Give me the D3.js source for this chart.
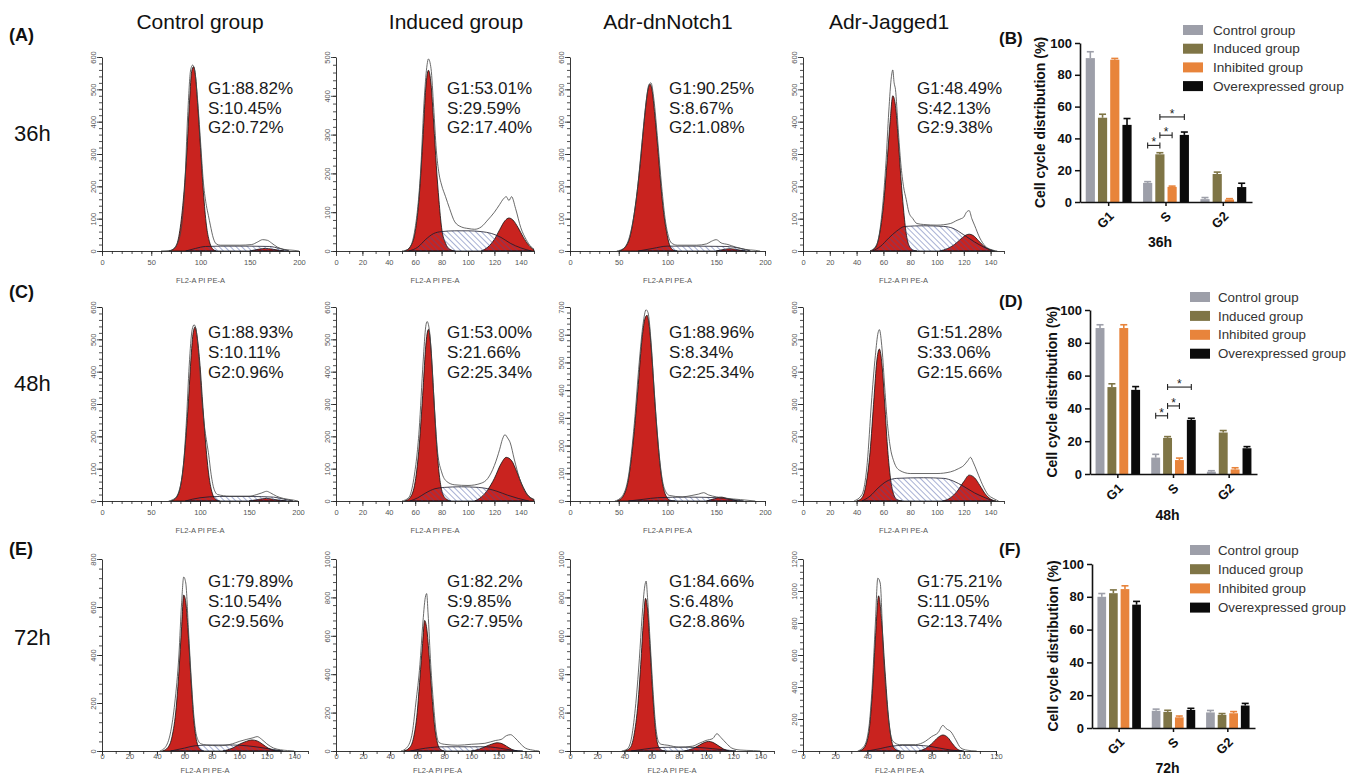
<!DOCTYPE html>
<html><head><meta charset="utf-8">
<script src="https://cdn.jsdelivr.net/npm/d3@7"></script>
<style>
body{margin:0;background:#fff}
svg text{font-family:Arial,"Liberation Sans",sans-serif}
</style>
</head><body>
<svg id="c" width="1348" height="783"></svg>
<script>
// ---------------- DATA ----------------
const columnTitles = ["Control group", "Induced group", "Adr-dnNotch1", "Adr-Jagged1"];
const rowLabels = ["36h", "48h", "72h"];
const panelLetters = ["(A)", "(C)", "(E)"];
const barLetters = ["(B)", "(D)", "(F)"];

// histogram axes maxima (panel order: row by row, 4 per row)
const histXMax = [200, 150, 200, 150, 200, 150, 200, 150, 150, 150, 150, 120];
const histYMax = [600, 500, 600, 600, 600, 600, 700, 600, 800, 1000, 1000, 1200];

const statG1 = ["G1:88.82%", "G1:53.01%", "G1:90.25%", "G1:48.49%", "G1:88.93%", "G1:53.00%", "G1:88.96%", "G1:51.28%", "G1:79.89%", "G1:82.2%", "G1:84.66%", "G1:75.21%"];
const statS  = ["S:10.45%", "S:29.59%", "S:8.67%", "S:42.13%", "S:10.11%", "S:21.66%", "S:8.34%", "S:33.06%", "S:10.54%", "S:9.85%", "S:6.48%", "S:11.05%"];
const statG2 = ["G2:0.72%", "G2:17.40%", "G2:1.08%", "G2:9.38%", "G2:0.96%", "G2:25.34%", "G2:25.34%", "G2:15.66%", "G2:9.56%", "G2:7.95%", "G2:8.86%", "G2:13.74%"];

// fitted G1 peaks [channel, count]
const g1Peaks = [
  [[68,0],[74,10],[78,45],[82,140],[86,300],[89,470],[91,555],[93,570],[95,540],[97,460],[100,320],[103,180],[106,80],[109,30],[112,8],[116,0]],
  [[52,0],[56,10],[60,50],[63,140],[66,300],[68,420],[70,466],[72,430],[74,330],[76,220],[78,130],[80,60],[83,20],[86,5],[90,0]],
  [[50,0],[56,10],[62,50],[67,140],[72,270],[76,400],[80,500],[82,516],[84,500],[87,420],[90,320],[93,210],[96,120],[99,60],[102,20],[106,3],[110,0]],
  [[50,0],[54,10],[57,50],[60,140],[63,290],[65,400],[67,480],[69,450],[71,350],[73,230],[75,130],[77,55],[79,18],[82,3],[85,0]],
  [[70,0],[75,8],[80,45],[84,140],[88,300],[91,450],[93,520],[95,538],[97,510],[100,420],[103,290],[106,170],[109,80],[112,30],[115,8],[120,0]],
  [[52,0],[56,10],[60,60],[63,170],[66,350],[68,480],[70,531],[72,470],[74,330],[76,190],[78,90],[80,35],[83,8],[87,0]],
  [[48,0],[54,15],[60,80],[65,220],[70,420],[74,590],[77,660],[79,670],[81,640],[84,520],[87,360],[90,220],[93,110],[96,45],[99,15],[103,2],[108,0]],
  [[40,0],[44,10],[47,50],[50,150],[53,320],[55,430],[57,470],[59,420],[61,300],[63,170],[65,80],[67,30],[70,5],[74,0]],
  [[44,0],[48,15],[51,60],[54,180],[56,330],[58,520],[59.5,650],[61,620],[63,470],[65,280],[67,120],[69,40],[71,10],[74,0]],
  [[50,0],[54,15],[57,60],[60,200],[62,380],[64,560],[65.5,680],[67,640],[69,480],[71,280],[73,120],[75,40],[77,10],[80,0]],
  [[40,0],[44,15],[47,80],[50,250],[52,450],[54,680],[55.5,795],[57,740],[59,520],[61,280],[63,100],[65,25],[68,3],[70,0]],
  [[35,0],[38,20],[41,120],[43,350],[45,700],[47,970],[49,800],[51,500],[53,230],[55,70],[57,15],[60,0]]
];
// fitted G2 peaks
const g2Peaks = [
  [[150,0],[160,6],[166,8],[172,6],[185,0]],
  [[110,0],[115,10],[120,30],[124,55],[128,78],[131,85],[134,80],[138,60],[142,35],[146,15],[150,3]],
  [[150,0],[158,5],[164,7],[170,5],[180,0]],
  [[102,0],[108,8],[113,20],[118,38],[122,50],[124,52],[127,48],[131,32],[135,15],[139,5],[143,0]],
  [[150,0],[160,5],[168,8],[175,5],[188,0]],
  [[105,0],[110,12],[115,35],[120,70],[125,115],[129,135],[133,125],[137,90],[141,50],[145,20],[150,5]],
  [[140,0],[148,8],[155,14],[162,8],[172,0]],
  [[104,0],[110,10],[115,30],[120,60],[124,80],[128,72],[132,48],[136,22],[140,6],[144,0]],
  [[88,0],[95,12],[100,28],[105,40],[109,46],[113,42],[117,28],[121,12],[126,2],[130,0]],
  [[100,0],[106,10],[111,25],[116,38],[119,43],[122,40],[126,25],[130,8],[134,0]],
  [[84,0],[90,12],[95,30],[99,45],[102,50],[105,45],[109,28],[113,10],[117,0]],
  [[72,0],[76,15],[80,45],[84,85],[87,100],[90,85],[93,45],[96,12],[99,0]]
];
// fitted S-phase distributions
const sPhases = [
  [[85,0],[95,8],[105,14],[120,15],[150,15],[170,14],[180,8],[190,0]],
  [[55,0],[62,10],[68,30],[74,45],[80,50],[90,52],[100,52],[110,50],[118,45],[125,35],[132,20],[140,8],[148,0]],
  [[70,0],[85,8],[100,15],[130,15],[160,14],[175,8],[185,0]],
  [[52,0],[58,15],[64,40],[70,62],[76,76],[90,78],[105,76],[112,70],[120,50],[128,28],[135,12],[142,0]],
  [[85,0],[100,10],[120,14],[150,14],[175,12],[185,6],[195,0]],
  [[56,0],[62,10],[68,25],[75,38],[82,42],[95,44],[108,42],[115,38],[122,30],[130,18],[138,8],[146,0]],
  [[60,0],[75,6],[90,12],[120,14],[150,12],[165,6],[178,0]],
  [[44,0],[50,15],[56,40],[62,60],[70,70],[90,72],[105,70],[112,62],[120,45],[128,25],[136,10],[142,0]],
  [[50,0],[60,12],[68,22],[80,25],[95,25],[105,22],[115,15],[125,6],[132,0]],
  [[55,0],[62,10],[70,18],[80,22],[100,22],[110,22],[118,18],[125,10],[132,3],[138,0]],
  [[45,0],[55,10],[65,18],[80,20],[95,18],[105,12],[115,5],[122,0]],
  [[40,0],[48,15],[55,30],[62,35],[72,35],[78,30],[85,18],[92,6],[100,0]]
];
// raw histogram outlines
const rawCounts = [
  [[60,0],[70,2],[75,15],[80,60],[84,200],[87,420],[90,560],[92,575],[94,560],[97,470],[100,340],[103,210],[106,140],[108,110],[110,80],[113,40],[116,22],[120,18],[140,18],[152,20],[158,28],[163,35],[168,33],[172,25],[178,12],[185,5],[195,2],[200,0]],
  [[50,0],[55,5],[60,60],[64,200],[67,400],[69,480],[70,495],[72,470],[74,370],[76,260],[78,200],[80,170],[83,140],[86,110],[90,75],[95,62],[100,58],[105,56],[110,62],[115,80],[120,100],[124,120],[127,135],[129,140],[131,130],[133,140],[136,110],[140,60],[144,30],[148,10],[150,5]],
  [[48,0],[55,8],[62,55],[68,160],[74,340],[78,460],[81,515],[83,520],[86,470],[90,340],[94,200],[98,90],[101,45],[104,25],[110,18],[130,18],[140,22],[145,30],[150,35],[155,25],[162,20],[170,12],[180,5],[190,2],[195,0]],
  [[50,0],[55,20],[59,120],[62,280],[64,430],[66,540],[67,560],[68,520],[69,500],[71,380],[73,270],[75,200],[77,160],[79,120],[82,100],[85,85],[90,82],[100,80],[110,85],[115,95],[118,100],[120,105],[122,120],[124,125],[126,100],[128,80],[132,40],[136,15],[140,5],[145,0]],
  [[68,0],[75,10],[82,80],[86,240],[89,420],[92,530],[94,545],[96,530],[99,440],[102,310],[105,220],[107,180],[109,140],[111,90],[114,40],[118,20],[130,15],[150,15],[158,20],[163,25],[168,30],[172,25],[178,15],[185,8],[195,3],[200,0]],
  [[50,0],[55,10],[59,70],[63,220],[66,430],[68,540],[69,555],[71,520],[73,400],[75,260],[77,150],[80,90],[84,60],[90,50],[100,48],[110,55],[115,70],[120,110],[124,160],[126,190],[128,205],[130,195],[132,180],[135,130],[139,70],[143,30],[147,10],[150,3]],
  [[46,0],[53,15],[60,90],[66,280],[71,500],[75,640],[78,690],[80,680],[83,580],[86,420],[89,270],[92,150],[95,70],[98,35],[102,20],[115,15],[125,20],[132,25],[137,30],[142,22],[150,15],[160,10],[175,5],[190,0]],
  [[38,0],[44,20],[48,120],[51,300],[54,450],[56,520],[57,530],[59,470],[61,350],[63,240],[65,170],[68,120],[72,95],[80,85],[100,85],[110,90],[116,100],[120,110],[123,125],[125,135],[127,120],[130,90],[134,50],[138,20],[142,8],[146,0]],
  [[42,0],[46,15],[50,80],[53,200],[56,400],[58,620],[59.5,725],[61,700],[63,500],[65,300],[67,140],[69,60],[72,30],[76,25],[85,22],[95,30],[100,40],[105,48],[110,55],[113,60],[116,50],[120,30],[125,12],[130,5],[135,2],[140,0]],
  [[48,0],[52,15],[56,80],[59,250],[62,450],[64,650],[66,800],[67,820],[68,720],[70,450],[72,250],[74,100],[76,45],[80,35],[90,30],[100,35],[110,40],[118,55],[122,60],[126,80],[129,85],[132,70],[136,40],[140,15],[145,5],[150,0]],
  [[38,0],[42,10],[45,60],[48,220],[51,480],[53,700],[55,860],[56,885],[57,800],[59,560],[61,320],[63,130],[65,50],[67,35],[72,30],[80,20],[90,25],[95,40],[100,55],[105,65],[108,90],[111,70],[115,40],[119,15],[125,5],[135,2],[140,0]],
  [[34,0],[38,30],[41,150],[43,400],[45,800],[46.5,1080],[48,1050],[50,600],[52,320],[54,130],[56,60],[60,40],[70,40],[76,60],[80,90],[84,115],[87,160],[89,140],[92,120],[95,70],[98,20],[102,5],[108,0]]
];

// bar charts
const phases = ["G1", "S", "G2"];
const groups = ["Control group", "Induced group", "Inhibited group", "Overexpressed group"];
const barTitles = ["36h", "48h", "72h"];
// means[group][phase]
const mean36h = [[90.5, 12, 1.8], [53, 30, 17.6], [89.5, 9.5, 1.6], [48.5, 42.2, 9.4]];
const err36h  = [[4, 0.8, 1], [2.2, 1, 1.2], [0.8, 0.5, 0.5], [4, 1.8, 2.4]];
const mean48h = [[89, 10, 1.4], [53, 22, 25.3], [89, 8.5, 2.8], [51.3, 33, 15.7]];
const err48h  = [[2, 2, 0.6], [2, 0.8, 1.2], [2, 1.2, 1], [2, 1, 1]];
const mean72h = [[80, 10.5, 9.5], [82.2, 9.8, 8], [84.7, 6.5, 9], [75.2, 11, 13.7]];
const err72h  = [[2, 1, 1.2], [2, 1, 0.8], [2, 0.8, 1], [2, 1, 1.3]];
// significance brackets in S phase: [groupA, groupB, level]
const sig36h = [[0, 1, 35.6], [1, 2, 42], [1, 3, 53.5]];
const sig48h = [[0, 1, 35.5], [1, 2, 41.5], [1, 3, 53]];
const sig72h = [];

// ---------------- DRAW ----------------
const svg = d3.select("#c");
svg.append("rect").attr("width", 1348).attr("height", 783).attr("fill", "#fff");
const defs = svg.append("defs");
defs.append("pattern").attr("id", "hatch").attr("patternUnits", "userSpaceOnUse")
  .attr("width", 4).attr("height", 4).attr("patternTransform", "rotate(-45)")
  .append("line").attr("x1", 0).attr("y1", 0).attr("x2", 0).attr("y2", 4)
  .attr("stroke", "#3d52a0").attr("stroke-width", 0.9);

const colLeft = [102, 336, 570, 803];
const rowBottom = [251, 501, 751];
const rowTop = [57, 307, 559];
const panelWidth = [197, 198, 195, 201, 196, 198, 195, 201, 206, 203, 204, 193];
const statX = [208, 447, 669, 917];
const statY0 = [94, 338, 587];
const statDy = [19.5, 20, 20];
const xLabOff = [15, 15, 9];
const xTitleOff = [29, 29, 19];

// titles
columnTitles.forEach((t, i) => {
  svg.append("text").attr("x", [200, 456, 668, 889][i]).attr("y", 29)
    .attr("text-anchor", "middle").attr("font-size", 21).attr("fill", "#111").text(t);
});
rowLabels.forEach((t, i) => {
  svg.append("text").attr("x", 14).attr("y", [141, 391, 645][i])
    .attr("font-size", 22).attr("fill", "#111").text(t);
});
panelLetters.forEach((t, i) => {
  svg.append("text").attr("x", 9).attr("y", [41, 298, 555][i])
    .attr("font-size", 18).attr("font-weight", "bold").attr("fill", "#111").text(t);
});

const red = "#c9231f";
for (let i = 0; i < 12; i++) {
  const r = Math.floor(i / 4), c = i % 4;
  const x = d3.scaleLinear([0, histXMax[i]], [colLeft[c], colLeft[c] + panelWidth[i]]);
  const y = d3.scaleLinear([0, histYMax[i]], [rowBottom[r], rowTop[r]]);
  const g = svg.append("g");
  const area = d3.area().x(d => x(d[0])).y0(y(0)).y1(d => y(d[1])).curve(d3.curveMonotoneX);
  const line = d3.line().x(d => x(d[0])).y(d => y(d[1])).curve(d3.curveMonotoneX);

  g.append("path").attr("d", area(g1Peaks[i])).attr("fill", red).attr("stroke", "#111").attr("stroke-width", 0.8);
  g.append("path").attr("d", area(g2Peaks[i])).attr("fill", red).attr("stroke", "#111").attr("stroke-width", 0.8);
  g.append("path").attr("d", area(sPhases[i])).attr("fill", "url(#hatch)").attr("stroke", "#1a1a2a").attr("stroke-width", 0.8);
  g.append("path").attr("d", line(rawCounts[i])).attr("fill", "none").attr("stroke", "#444").attr("stroke-width", 0.8);

  // axes
  const xMax = histXMax[i], yMax = histYMax[i];
  const xMajor = xMax === 200 ? 50 : 20;
  const yMajor = yMax <= 700 ? 100 : 200;
  const ax = g.append("g").attr("transform", `translate(0,${y(0)})`);
  ax.call(d3.axisBottom(x).tickValues(d3.range(0, xMax + 0.1, 10)).tickSize(3).tickSizeOuter(0).tickFormat(""));
  const axM = g.append("g").attr("transform", `translate(0,${y(0)})`);
  axM.call(d3.axisBottom(x).tickValues(d3.range(0, xMax + 0.1, xMajor)).tickSize(5).tickSizeOuter(0).tickFormat(d3.format("d")));
  axM.select(".domain").remove();
  axM.selectAll("text").attr("y", xLabOff[r] - 4).attr("dy", "0.35em").attr("font-size", 7.5).attr("fill", "#555");
  [ax, axM].forEach(a => { a.selectAll("line").attr("stroke", "#222").attr("stroke-width", 0.8); a.select(".domain").attr("stroke", "#222").attr("stroke-width", 0.9); });

  const ay = g.append("g").attr("transform", `translate(${x(0)},0)`);
  ay.call(d3.axisLeft(y).tickValues(d3.range(0, yMax + 0.1, yMajor / 5)).tickSize(3).tickSizeOuter(0).tickFormat(""));
  const ayM = g.append("g").attr("transform", `translate(${x(0)},0)`);
  ayM.call(d3.axisLeft(y).tickValues(d3.range(0, yMax + 0.1, yMajor)).tickSize(5).tickSizeOuter(0).tickFormat(d3.format("d")));
  ayM.select(".domain").remove();
  ayM.selectAll("text").attr("x", null).attr("dy", null).attr("text-anchor", "middle")
    .attr("transform", "translate(-6,0) rotate(-90)").attr("font-size", 7.5).attr("fill", "#555");
  [ay, ayM].forEach(a => { a.selectAll("line").attr("stroke", "#222").attr("stroke-width", 0.8); a.select(".domain").attr("stroke", "#222").attr("stroke-width", 0.9); });

  g.append("text").attr("x", (x.range()[0] + x.range()[1]) / 2).attr("y", y(0) + xTitleOff[r])
    .attr("dy", "0.35em").attr("text-anchor", "middle").attr("font-size", 7.5).attr("fill", "#555").text("FL2-A PI PE-A");

  [statG1[i], statS[i], statG2[i]].forEach((t, k) => {
    g.append("text").attr("x", statX[c]).attr("y", statY0[r] + k * statDy[r])
      .attr("font-size", 17).attr("fill", "#1a1a1a").text(t);
  });
}

// ---------------- BAR CHARTS ----------------
const barColors = ["#9d9fa9", "#7f7546", "#e8843b", "#0b0b0b"];
const barCfg = [
  {x0: 1080, x1: 1252, y0: 202, y100: 43, labX: 1040, titleY: 247, legX: 1183, legTX: 1213, legY: 30, legDy: 18.7, letterY: 44, legFs: 13.6},
  {x0: 1090, x1: 1257, y0: 474, y100: 310, labX: 1052, titleY: 520, legX: 1190, legTX: 1218, legY: 297, legDy: 18.9, letterY: 307, legFs: 13.3},
  {x0: 1092, x1: 1255, y0: 728, y100: 564, labX: 1053, titleY: 773, legX: 1190, legTX: 1218, legY: 550, legDy: 19.2, letterY: 555, legFs: 13.3}
];
const barMeans = [mean36h, mean48h, mean72h];
const barErrs = [err36h, err48h, err72h];
const barSigs = [sig36h, sig48h, sig72h];

barCfg.forEach((cfg, b) => {
  const g = svg.append("g");
  const xo = d3.scaleBand(phases, [cfg.x0, cfg.x1]).paddingInner(0.2).paddingOuter(0.1);
  const xi = d3.scaleBand(groups, [0, xo.bandwidth()]).paddingInner(0.25);
  const y = d3.scaleLinear([0, 100], [cfg.y0, cfg.y100]);

  groups.forEach((grp, gi) => {
    phases.forEach((ph, pi) => {
      const m = barMeans[b][gi][pi], e = barErrs[b][gi][pi];
      const bx = xo(ph) + xi(grp), cx = bx + xi.bandwidth() / 2;
      g.append("line").attr("x1", cx).attr("x2", cx).attr("y1", y(m)).attr("y2", y(m + e))
        .attr("stroke", barColors[gi]).attr("stroke-width", 1.6);
      g.append("line").attr("x1", cx - 3.5).attr("x2", cx + 3.5).attr("y1", y(m + e)).attr("y2", y(m + e))
        .attr("stroke", barColors[gi]).attr("stroke-width", 1.6);
      g.append("rect").attr("x", bx).attr("y", y(m)).attr("width", xi.bandwidth()).attr("height", y(0) - y(m))
        .attr("fill", barColors[gi]);
    });
  });

  // significance brackets
  barSigs[b].forEach(([a, c2, lvl]) => {
    const xa = xo("S") + xi(groups[a]) + xi.bandwidth() / 2;
    const xb = xo("S") + xi(groups[c2]) + xi.bandwidth() / 2;
    const yy = y(lvl);
    g.append("line").attr("x1", xa).attr("x2", xb).attr("y1", yy).attr("y2", yy).attr("stroke", "#222").attr("stroke-width", 1.1);
    [xa, xb].forEach(xx => g.append("line").attr("x1", xx).attr("x2", xx).attr("y1", yy - 3).attr("y2", yy + 3).attr("stroke", "#222").attr("stroke-width", 1.1));
    g.append("text").attr("x", (xa + xb) / 2).attr("y", yy + 1).attr("text-anchor", "middle")
      .attr("font-size", 12).attr("fill", "#222").text("*");
  });

  const ay = g.append("g").attr("transform", `translate(${cfg.x0},0)`)
    .call(d3.axisLeft(y).tickValues([0, 20, 40, 60, 80, 100]).tickSize(5).tickSizeOuter(0));
  ay.selectAll("text").attr("font-size", 13).attr("font-weight", "bold").attr("fill", "#111");
  const ax = g.append("g").attr("transform", `translate(0,${cfg.y0})`)
    .call(d3.axisBottom(xo).tickSize(4).tickSizeOuter(0).tickFormat(""));
  [ax, ay].forEach(a => {
    a.select(".domain").attr("stroke", "#111").attr("stroke-width", 1.6);
    a.selectAll("line").attr("stroke", "#111").attr("stroke-width", 1.5);
  });
  phases.forEach(ph => {
    const cx = xo(ph) + xo.bandwidth() / 2;
    g.append("text").attr("transform", `translate(${cx + 6},${cfg.y0 + 15}) rotate(-45)`)
      .attr("text-anchor", "end").attr("font-size", 13).attr("font-weight", "bold").attr("fill", "#111").text(ph);
  });

  g.append("text").attr("transform", `translate(${cfg.labX},${(cfg.y0 + cfg.y100) / 2}) rotate(-90)`)
    .attr("text-anchor", "middle").attr("dy", "0.35em").attr("font-size", 14).attr("font-weight", "bold")
    .attr("fill", "#111").text("Cell cycle distribution (%)");
  g.append("text").attr("x", (cfg.x0 + cfg.x1) / 2 - 6).attr("y", cfg.titleY).attr("text-anchor", "middle")
    .attr("font-size", 14).attr("font-weight", "bold").attr("fill", "#111").text(barTitles[b]);
  g.append("text").attr("x", 999).attr("y", cfg.letterY).attr("font-size", 17).attr("font-weight", "bold")
    .attr("fill", "#111").text(barLetters[b]);

  groups.forEach((grp, gi) => {
    const ly = cfg.legY + gi * cfg.legDy;
    g.append("rect").attr("x", cfg.legX).attr("y", ly - 5).attr("width", 20).attr("height", 10).attr("fill", barColors[gi]);
    g.append("text").attr("x", cfg.legTX).attr("y", ly).attr("dy", "0.35em").attr("font-size", cfg.legFs)
      .attr("fill", "#333").text(grp);
  });
});
</script>
</body></html>
